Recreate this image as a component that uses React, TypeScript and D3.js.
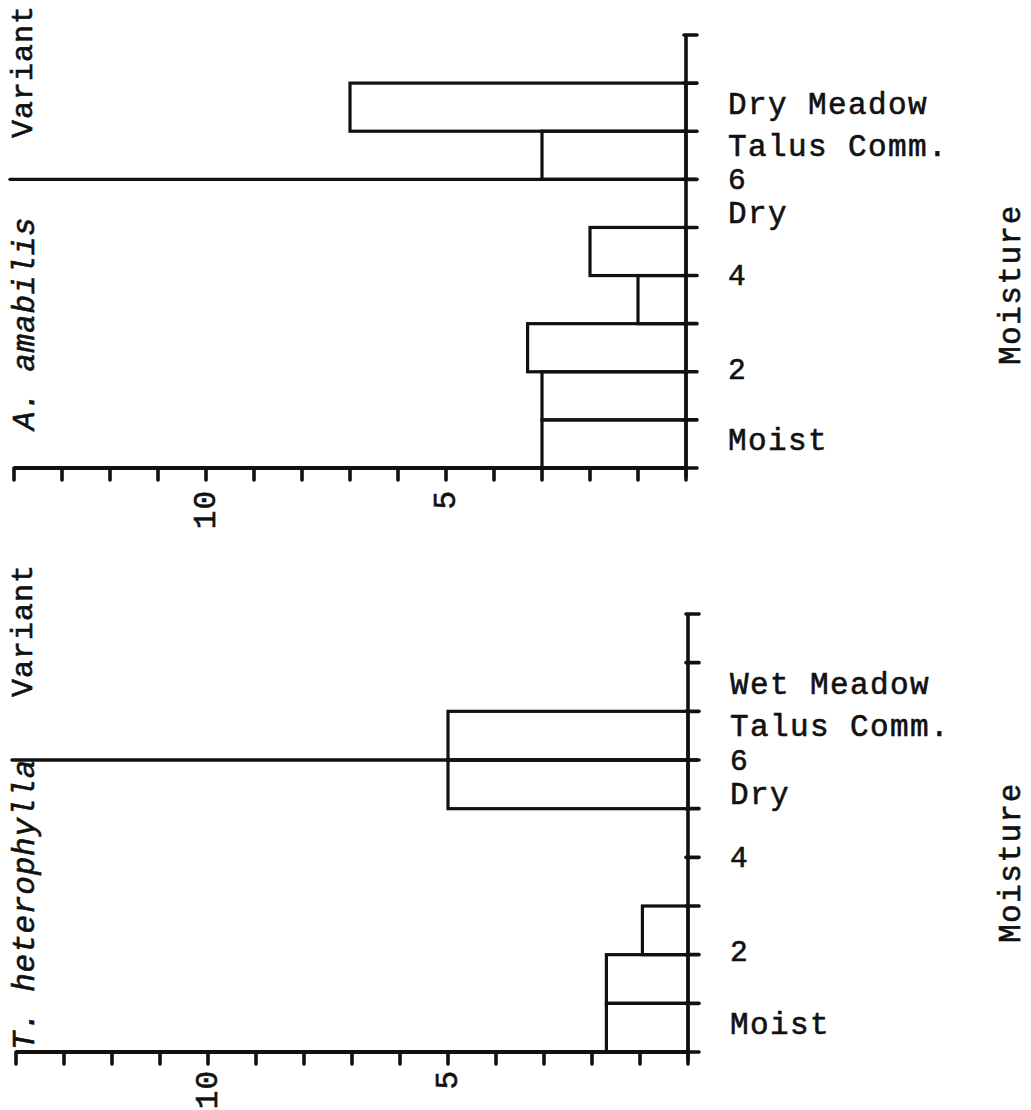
import React from "react";
import * as d3 from "d3";

// ---- data ----
const moistureBinStarts = [0, 1, 2, 3, 4, 5];
const amabilisCounts = [3, 3, 3.3, 1, 2, 0];
const amabilisVariantCounts = [3, 7]; // Talus Comm., Dry Meadow
const heterophyllaCounts = [1.7, 1.7, 0.95, 0, 0, 5];
const heterophyllaVariantCounts = [5, 0]; // Talus Comm., Wet Meadow
const variantBinStarts = [6, 7];
const xTickValues = d3.range(0, 15);
const xTickLabels = [5, 10];
const yTickValues = d3.range(0, 10);
const rightLabelsTop = ["Moist", "2", "4", "Dry", "6", "Talus Comm.", "Dry Meadow"];
const rightLabelsBottom = ["Moist", "2", "4", "Dry", "6", "Talus Comm.", "Wet Meadow"];
const rightLabelLevels = [0.37, 1.86, 3.8, 5.1, 5.8, 6.49, 7.36];

const FONT = "'Liberation Mono', 'Courier New', monospace";
const INK = "#111";

type PanelProps = {
  axisX: number;
  yTop: number;
  yBottom: number;
  counts: number[];
  variantCounts: number[];
  species: string;
  speciesStartY: number;
  variantStartY: number;
  moistureStartY: number;
  rightLabels: string[];
  tickLabelOffset: number;
};

const textStyle = {
  fontFamily: FONT,
  fontSize: 31,
  letterSpacing: 1,
  fill: INK,
  stroke: INK,
  strokeWidth: 0.6,
} as const;

function Panel(p: PanelProps) {
  const x = d3.scaleLinear().domain([0, 14]).range([p.axisX, p.axisX - 14 * 48]);
  const y = d3.scaleLinear().domain([0, 9]).range([p.yBottom, p.yTop]);
  const sw = 3.2;
  const bars = [
    ...moistureBinStarts.map((b, i) => ({ b, v: p.counts[i] })),
    ...variantBinStarts.map((b, i) => ({ b, v: p.variantCounts[i] })),
  ].filter((d) => d.v > 0);
  return (
    <g>
      {bars.map((d, i) => (
        <rect
          key={"bar" + i}
          x={x(d.v)}
          y={y(d.b + 1)}
          width={x(0) - x(d.v)}
          height={y(d.b) - y(d.b + 1)}
          fill="none"
          stroke={INK}
          strokeWidth={sw}
        />
      ))}
      {/* separator between moisture classes and variants */}
      <line x1={x(14) - 4} x2={x(0) + 9} y1={y(6)} y2={y(6)} stroke={INK} strokeWidth={3.4} strokeLinecap="round" />
      {/* x axis */}
      <line x1={x(14)} x2={x(0)} y1={y(0)} y2={y(0)} stroke={INK} strokeWidth={3.8} />
      {xTickValues.map((t) => (
        <line key={"xt" + t} x1={x(t)} x2={x(t)} y1={y(0)} y2={y(0) + 12} stroke={INK} strokeWidth={3.6} strokeLinecap="round" />
      ))}
      {xTickLabels.map((t) => (
        <text
          key={"xl" + t}
          transform={`translate(${x(t)},${y(0) + p.tickLabelOffset}) rotate(-90)`}
          textAnchor="end"
          dominantBaseline="central"
          {...textStyle}
        >
          {t}
        </text>
      ))}
      {/* y axis */}
      <line x1={x(0)} x2={x(0)} y1={y(9)} y2={y(0) + 9} stroke={INK} strokeWidth={3.6} />
      {yTickValues.map((t) => (
        <line key={"yt" + t} x1={x(0) - 2} x2={x(0) + 11} y1={y(t)} y2={y(t)} stroke={INK} strokeWidth={3.6} strokeLinecap="round" />
      ))}
      {p.rightLabels.map((s, i) => (
        <text
          key={"rl" + i}
          x={x(0) + 42}
          y={y(rightLabelLevels[i])}
          {...textStyle}
          fontSize={/^\d+$/.test(s) ? 29.5 : 31}
          letterSpacing={1.4}
        >
          {s}
        </text>
      ))}
      <text transform={`translate(1020,${p.moistureStartY}) rotate(-90)`} {...textStyle} letterSpacing={1.5}>
        Moisture
      </text>
      <text transform={`translate(32,${p.variantStartY}) rotate(-90)`} {...textStyle} fontSize={30} letterSpacing={1}>
        Variant
      </text>
      <text
        transform={`translate(34,${p.speciesStartY}) rotate(-90)`}
        {...textStyle}
        fontStyle="italic"
        letterSpacing={0.8}
      >
        {p.species}
      </text>
    </g>
  );
}

export default function App() {
  return (
    <svg width={1031} height={1110} style={{ position: "absolute", left: 0, top: 0, background: "#fff" }}>
      <rect width={1031} height={1110} fill="#fff" />
      <Panel
        axisX={686}
        yTop={35}
        yBottom={468}
        counts={amabilisCounts}
        variantCounts={amabilisVariantCounts}
        species="A. amabilis"
        speciesStartY={430}
        variantStartY={138}
        moistureStartY={365}
        rightLabels={rightLabelsTop}
        tickLabelOffset={22}
      />
      <Panel
        axisX={688}
        yTop={614}
        yBottom={1052}
        counts={heterophyllaCounts}
        variantCounts={heterophyllaVariantCounts}
        species="T. heterophylla"
        speciesStartY={1050}
        variantStartY={697}
        moistureStartY={943}
        rightLabels={rightLabelsBottom}
        tickLabelOffset={18}
      />
    </svg>
  );
}
